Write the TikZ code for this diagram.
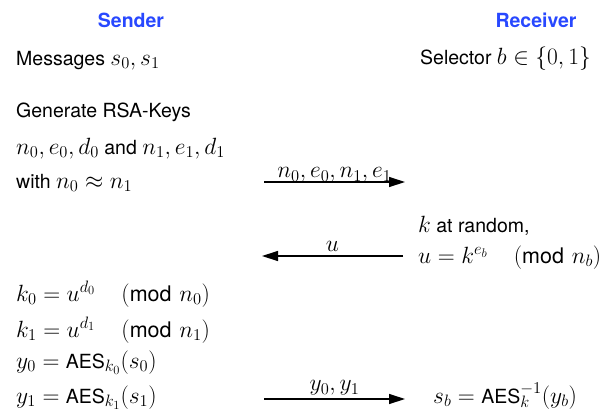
\RequirePackage{fix-cm}
\documentclass[tikz,border=0pt]{standalone}
\usepackage{fontspec}
\setmainfont{TeX Gyre Heros}
\setmathrm{TeX Gyre Heros}
\edef\mymainfam{\rmdefault}
\DeclareSymbolFont{operators}{TU}{\mymainfam}{m}{n}
\SetSymbolFont{operators}{bold}{TU}{\mymainfam}{b}{n}
\DeclareSymbolFont{cmrsym}{OT1}{cmr}{m}{n}
\DeclareMathSymbol{=}{\mathrel}{cmrsym}{"3D}
\DeclareMathDelimiter{(}{\mathopen}{cmrsym}{"28}{largesymbols}{"00}
\DeclareMathDelimiter{)}{\mathclose}{cmrsym}{"29}{largesymbols}{"01}
\DeclareMathSizes{19.5}{23.5}{16.5}{12.5}
\newcommand{\aes}{\mbox{AES}}
\newcommand{\mymod}[1]{\mkern20mu(\mbox{\fontsize{21.5pt}{24pt}\selectfont mod}\mkern6mu #1)}
\usetikzlibrary{arrows.meta}
\definecolor{headblue}{RGB}{40,72,255}
\tikzset{
  txt/.style={anchor=base west, inner sep=0pt, font=\fontsize{19.5pt}{24pt}\selectfont},
  head/.style={anchor=base, inner sep=0pt, text=headblue, font=\fontsize{19.5pt}{24pt}\selectfont\bfseries},
  msg/.style={line width=1.3pt, -{Triangle[length=16pt,width=10pt]}},
  lbl/.style={above, inner sep=2pt, font=\fontsize{19.5pt}{24pt}\selectfont}
}
\begin{document}
\begin{tikzpicture}[x=1pt,y=-1pt]
\useasboundingbox (0,0) rectangle (603,416);
\node[head] (sender) at (131,27) {Sender};
\node[head] (receiver) at (536,27) {Receiver};

\node[txt] (msgs) at (16,65) {Messages $s_0, s_1$};
\node[txt] (sel) at (420,64) {Selector $b \in \{0,1\}$};
\node[txt] (gen) at (16,117) {Generate RSA-Keys};
\node[txt] (keys) at (16,154) {$n_0, e_0, d_0$ and $n_1, e_1, d_1$};
\node[txt] (with) at (16,188) {with $n_0 \approx n_1$};

\node[txt] (krand) at (418,232) {$k$ at random,};
\node[txt] (ucomp) at (418,263) {$u = k^{e_b} \mymod{n_b}$};

\node[txt] (k0) at (16,301) {$k_0 = u^{d_0} \mymod{n_0}$};
\node[txt] (k1) at (16,337) {$k_1 = u^{d_1} \mymod{n_1}$};
\node[txt] (y0) at (16,368) {$y_0 = \aes_{k_0}(s_0)$};
\node[txt] (y1) at (16,403) {$y_1 = \aes_{k_1}(s_1)$};
\node[txt] (sb) at (433,403) {$s_b = \aes_k^{-1}(y_b)$};

\coordinate (a1s) at (264,182);
\coordinate (a1e) at (405,182);
\coordinate (a2s) at (403,256);
\coordinate (a2e) at (262,256);
\coordinate (a3s) at (264,399);
\coordinate (a3e) at (405,399);

\draw[msg] (a1s) -- node[lbl, inner sep=0pt, yshift=-1pt] (l1) {$n_0, e_0, n_1, e_1$} (a1e);
\draw[msg] (a2s) -- node[lbl, yshift=2pt] (l2) {$u$} (a2e);
\draw[msg] (a3s) -- node[lbl, yshift=1pt] (l3) {$y_0, y_1$} (a3e);
\end{tikzpicture}
\end{document}
